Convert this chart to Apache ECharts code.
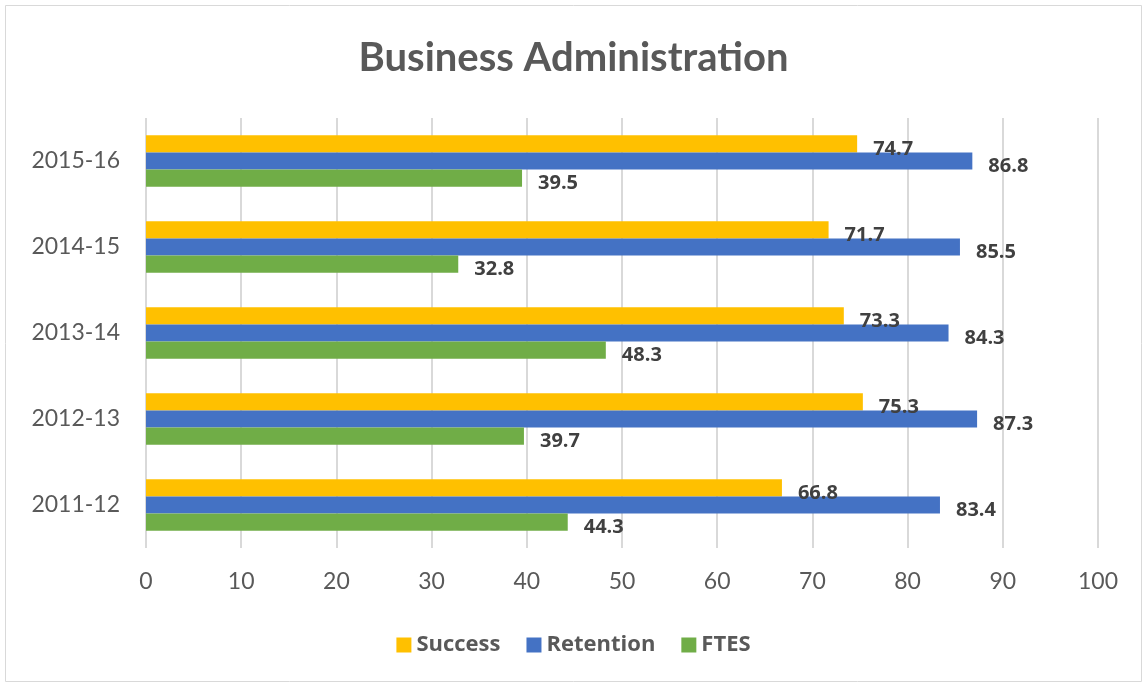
<!DOCTYPE html>
<html>
<head>
<meta charset="utf-8">
<script src="https://cdn.jsdelivr.net/npm/echarts@6/dist/echarts.min.js"></script>
<style>html,body{margin:0;padding:0;background:#fff}#c{width:1147px;height:687px}</style>
</head>
<body>
<div id="c"></div>
<script>
const categories = ['2011-12', '2012-13', '2013-14', '2014-15', '2015-16'];
const success = [66.8, 75.3, 73.3, 71.7, 74.7];
const retention = [83.4, 87.3, 84.3, 85.5, 86.8];
const ftes = [44.3, 39.7, 48.3, 32.8, 39.5];
const xTicks = { min: 0, max: 100, interval: 10 };

const chart = echarts.init(document.getElementById('c'));
const FONT = 'Lato, "Open Sans", sans-serif';
const BFONT = '"Open Sans", Lato, sans-serif';
const lbl = {
  show: true, position: 'right', distance: 16, offset: [0, 5],
  fontFamily: BFONT, fontWeight: 'bold', fontSize: 20, color: '#404040'
};
chart.setOption({
  animation: false,
  backgroundColor: '#fff',
  graphic: [{ type: 'rect', shape: { x: 5.5, y: 5.5, width: 1136, height: 676 }, style: { fill: 'none', stroke: '#d9d9d9', lineWidth: 1 } }],
  title: {
    text: 'Business Administration', left: 'center', top: 33,
    textStyle: { fontFamily: FONT, fontWeight: 'bold', fontSize: 40, color: '#595959' }
  },
  legend: {
    data: ['Success', 'Retention', 'FTES'], top: 629, left: 'center',
    icon: 'rect', itemWidth: 15, itemHeight: 15, itemGap: 26,
    textStyle: { fontFamily: BFONT, fontWeight: 'bold', fontSize: 22, color: '#595959' }
  },
  grid: { left: 146, right: 49, top: 118, bottom: 139, containLabel: false },
  xAxis: {
    type: 'value', min: xTicks.min, max: xTicks.max, interval: xTicks.interval,
    axisLine: { show: false }, axisTick: { show: false },
    splitLine: { lineStyle: { color: '#d9d9d9', width: 2 } },
    axisLabel: { fontFamily: FONT, fontSize: 23, color: '#595959', margin: 22 }
  },
  yAxis: {
    type: 'category', data: categories,
    axisLine: { show: false }, axisTick: { show: false },
    axisLabel: { fontFamily: FONT, fontSize: 23, color: '#595959', margin: 26 }
  },
  series: [
    { name: 'Success', type: 'bar', data: success, itemStyle: { color: '#FFC000' }, label: lbl, barGap: '0%', barCategoryGap: '40%' },
    { name: 'Retention', type: 'bar', data: retention, itemStyle: { color: '#4472C4' }, label: lbl, barGap: '0%', barCategoryGap: '40%' },
    { name: 'FTES', type: 'bar', data: ftes, itemStyle: { color: '#70AD47' }, label: lbl, barGap: '0%', barCategoryGap: '40%' }
  ]
});
</script>
</body>
</html>
